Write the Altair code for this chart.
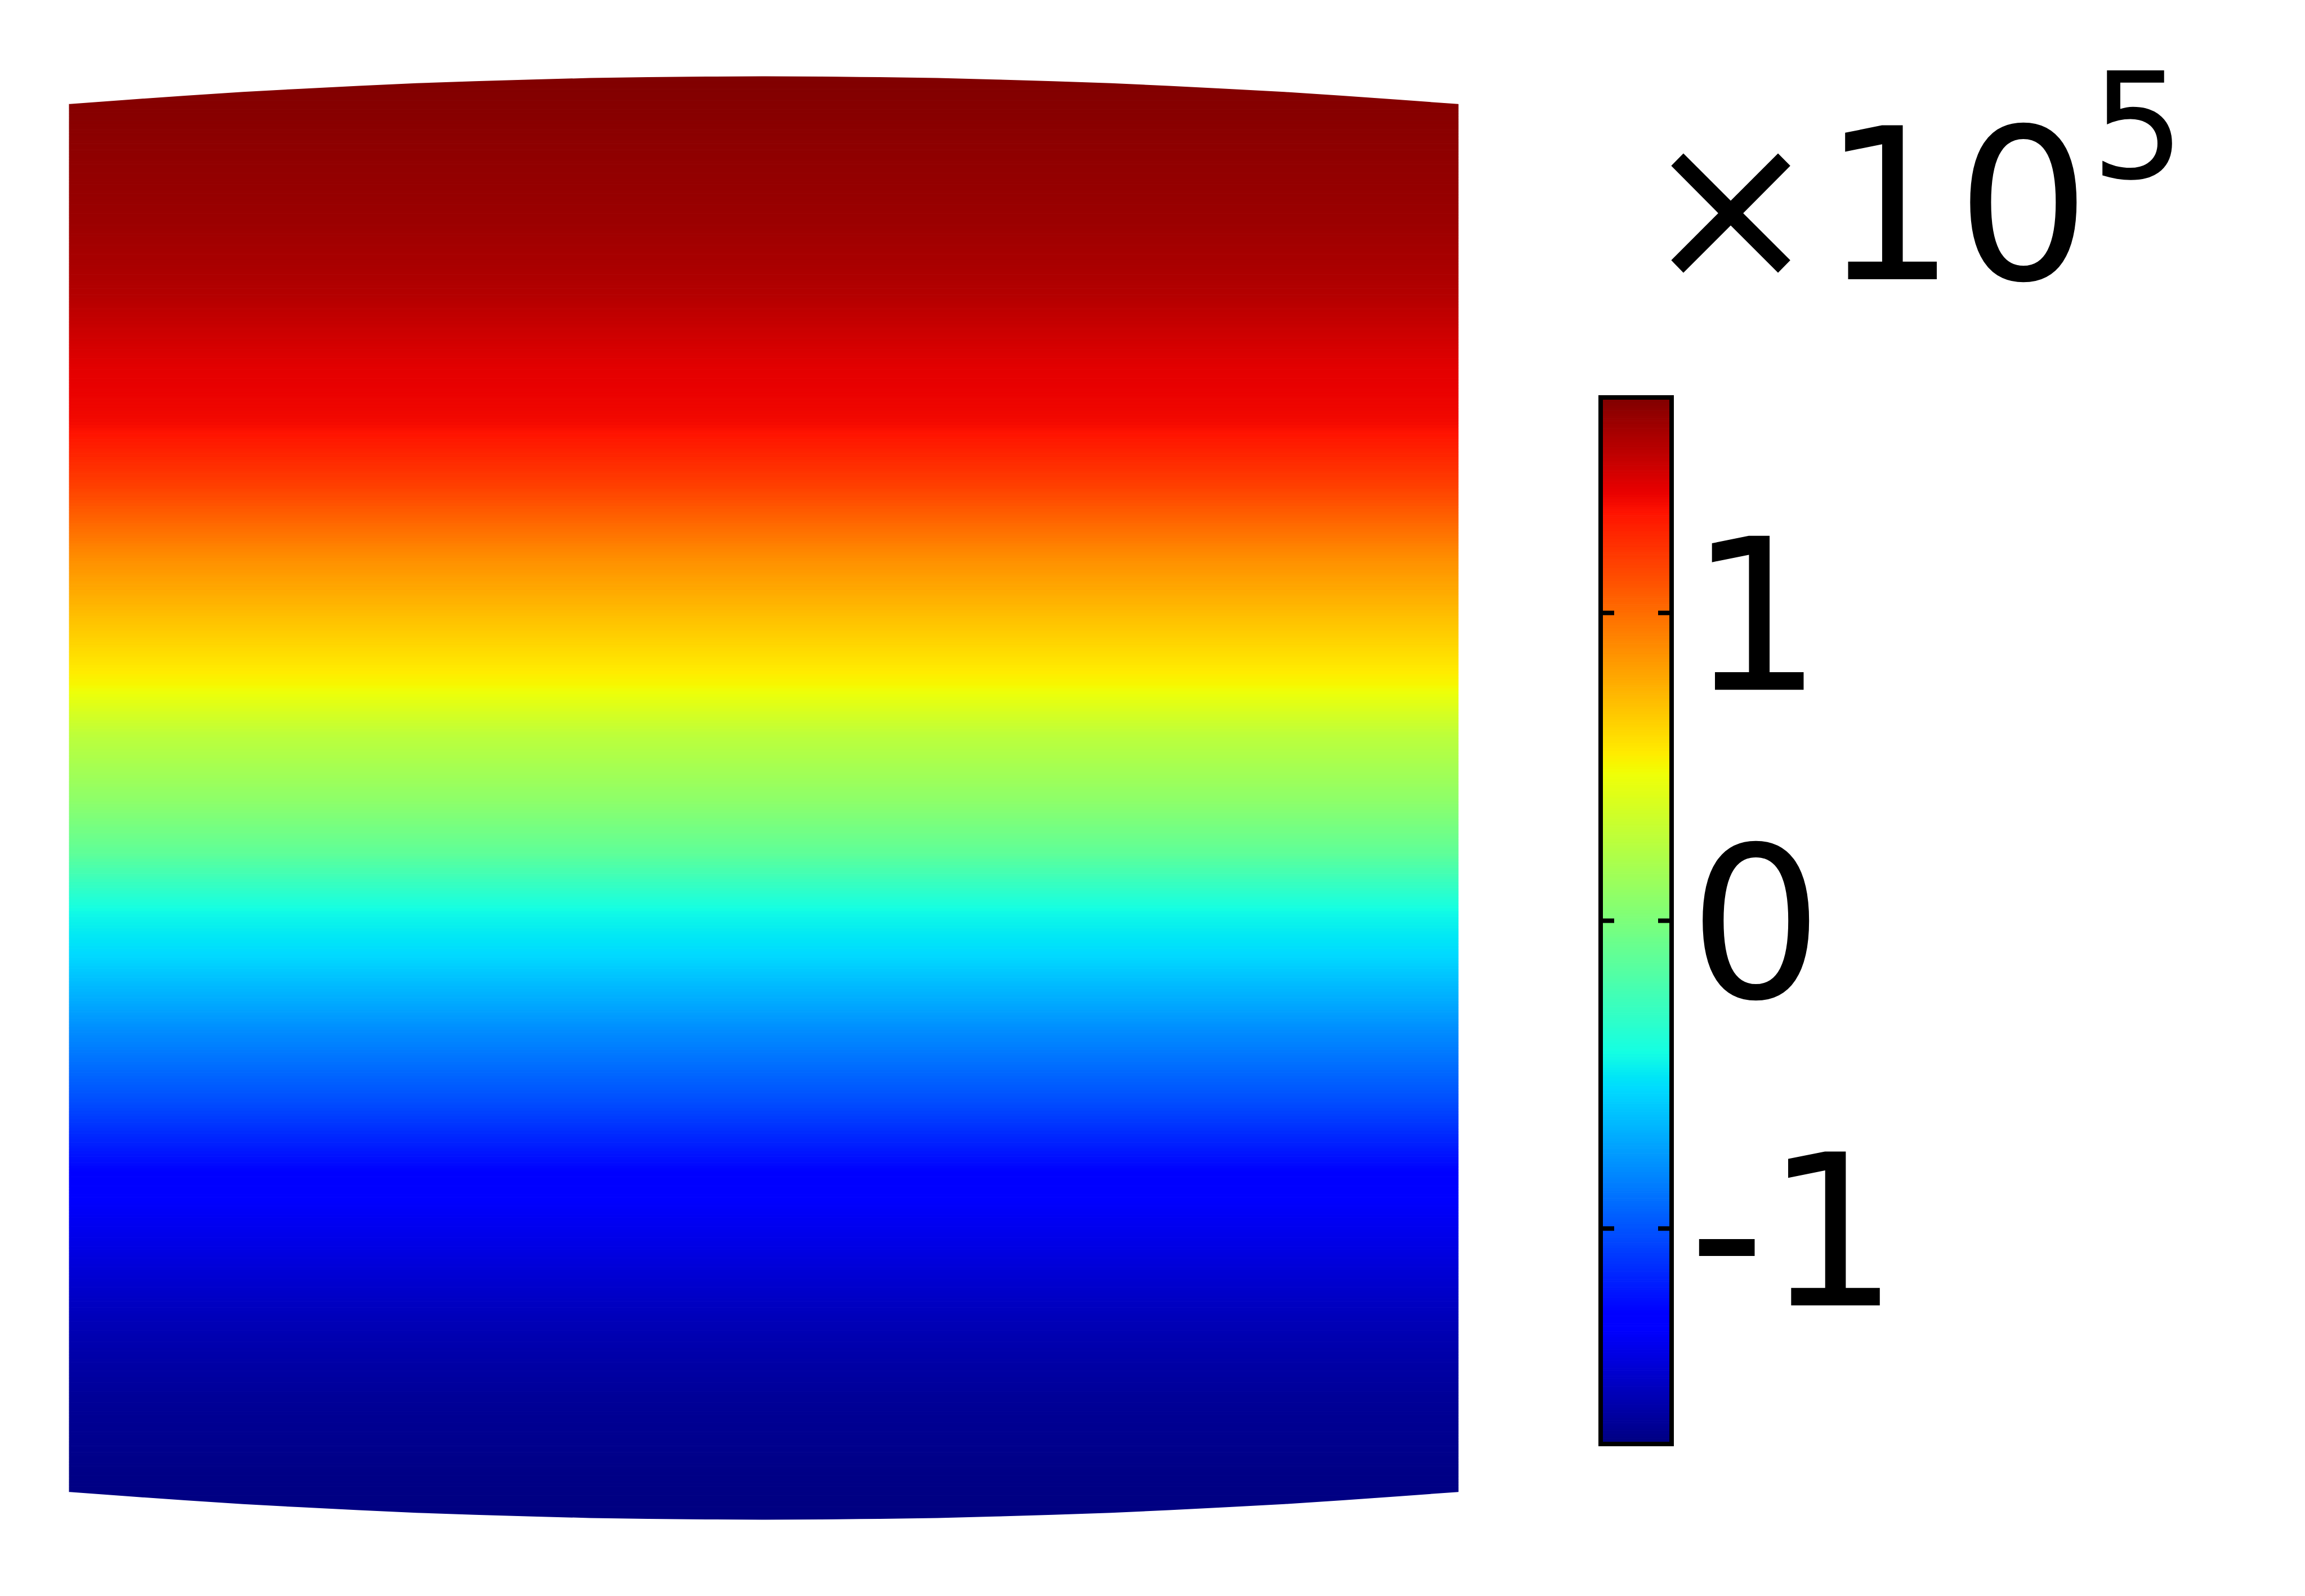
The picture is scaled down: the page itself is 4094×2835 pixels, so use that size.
import numpy as np
import pandas as pd
import altair as alt

# ---------------- values ----------------
V_MAX = 1.70e5            # colour-bar top
V_MIN = -1.70e5           # colour-bar bottom
TICK_VALUES = [-1e5, 0, 1e5]

# deformed outline of the body (data units)
edge_x = [0, 2, 4, 6, 8, 10, 12, 14, 16, 18, 20, 22, 24,
          26, 28, 30, 32, 34, 36, 38, 40, 42, 44, 46, 48]
edge_top = [24.02, 24.17, 24.31, 24.44, 24.55, 24.65, 24.74, 24.81, 24.87, 24.92, 24.95, 24.97, 24.98,
            24.97, 24.95, 24.92, 24.87, 24.81, 24.74, 24.65, 24.55, 24.44, 24.31, 24.17, 24.02]
edge_bottom = [-v for v in edge_top]

# field value (x1e5) read at heights through the body (data units)
profile_y = [25.0, 22.5, 19.96, 17.42, 14.88, 13.0, 10.82, 8.27, 5.74, 3.96, 2.18,
             -0.11, -1.89, -3.92, -5.44, -7.98, -10.52, -13.06, -15.6, -18.14,
             -20.68, -23.22, -25.0]
profile_v = [1.70, 1.66, 1.62, 1.55, 1.41, 1.36, 1.17, 0.88, 0.66, 0.51, 0.27,
             0.07, -0.12, -0.44, -0.55, -0.80, -1.02, -1.29, -1.41, -1.54,
             -1.63, -1.68, -1.70]

# ---------------- jet colour map (style) ----------------
JET = {
    "red": [(0, 0), (0.35, 0), (0.66, 1), (0.89, 1), (1, 0.5)],
    "green": [(0, 0), (0.125, 0), (0.375, 1), (0.64, 1), (0.91, 0), (1, 0)],
    "blue": [(0, 0.5), (0.11, 1), (0.34, 1), (0.65, 0), (1, 0)],
}
stops = sorted({t for seg in JET.values() for t, _ in seg})


def chan(name, t):
    xs = [p[0] for p in JET[name]]
    ys = [p[1] for p in JET[name]]
    return float(np.interp(t, xs, ys))


jet_colors = ["#%02x%02x%02x" % tuple(int(round(255 * chan(c, t))) for c in ("red", "green", "blue"))
              for t in stops]
jet_domain = [V_MIN + t * (V_MAX - V_MIN) for t in stops]
cscale = alt.Scale(type="linear", domain=jet_domain, range=jet_colors, interpolate="rgb", clamp=True)

# ---------------- field cells (shading of the read profile) ----------------
cell_edges = np.round(np.linspace(-25, 25, 501), 4)
mid = (cell_edges[:-1] + cell_edges[1:]) / 2
cell_v = np.interp(mid, profile_y[::-1], profile_v[::-1]) * 1e5
cells = pd.DataFrame({"x0": 0.0, "x1": 48.0, "y0": cell_edges[:-1], "y1": cell_edges[1:], "v": cell_v})

bar_edges = np.linspace(V_MIN, V_MAX, 401)
bar = pd.DataFrame({"c0": bar_edges[:-1], "c1": bar_edges[1:],
                    "v": (bar_edges[:-1] + bar_edges[1:]) / 2})

outline = pd.DataFrame({"x": edge_x, "top": edge_top, "bottom": edge_bottom,
                        "above": 26.5, "below": -26.5})

# ---------------- scales (plot origin at page 100,100) ----------------
sx = alt.Scale(domain=[0, 48], range=[23, 2490])
sy = alt.Scale(domain=[-25, 25], range=[2602.5, 32.5])
cy = alt.Scale(domain=[V_MIN, V_MAX], range=[2465, 606])
FONT = "DejaVu Sans"

field = alt.Chart(cells).mark_rect(strokeWidth=1).encode(
    x=alt.X("x0:Q", scale=sx, axis=None), x2="x1",
    y=alt.Y("y0:Q", scale=sy, axis=None), y2="y1",
    color=alt.Color("v:Q", scale=cscale, legend=None),
    stroke=alt.Stroke("v:Q", scale=cscale, legend=None),
)

mask_top = alt.Chart(outline).mark_area(
    color="white", stroke="white", strokeWidth=4, strokeJoin="round",
    interpolate="natural").encode(
    x=alt.X("x:Q", scale=sx, axis=None),
    y=alt.Y("top:Q", scale=sy, axis=None), y2="above",
)
mask_bottom = alt.Chart(outline).mark_area(
    color="white", stroke="white", strokeWidth=4, strokeJoin="round",
    interpolate="natural").encode(
    x=alt.X("x:Q", scale=sx, axis=None),
    y=alt.Y("bottom:Q", scale=sy, axis=None), y2="below",
)

cbar = alt.Chart(bar).mark_rect(strokeWidth=1).encode(
    x=alt.value(2743), x2=alt.value(2869),
    y=alt.Y("c0:Q", scale=cy, axis=alt.Axis(
        orient="right", values=TICK_VALUES, labelExpr="datum.value / 100000 + ''",
        ticks=False, domain=False, grid=False, title=None,
        labelFont=FONT, labelFontSize=375, labelColor="black", labelLimit=0,
        labelPadding=30, labelAlign="left", labelBaseline="middle", labelFlush=False,
        labelOverlap=False, labelOffset=23)),
    y2="c1",
    color=alt.Color("v:Q", scale=cscale, legend=None),
    stroke=alt.Stroke("v:Q", scale=cscale, legend=None),
)

frame = alt.Chart(pd.DataFrame({"lo": [V_MIN], "hi": [V_MAX]})).mark_rect(
    filled=False, stroke="black", strokeWidth=8).encode(
    x=alt.value(2743), x2=alt.value(2869),
    y=alt.Y("lo:Q", scale=cy, axis=None), y2="hi",
)

ticks_df = pd.DataFrame({"t": TICK_VALUES})
tick_l = alt.Chart(ticks_df).mark_rule(color="black", strokeWidth=8, strokeCap="butt").encode(
    x=alt.value(2743), x2=alt.value(2767), y=alt.Y("t:Q", scale=cy, axis=None))
tick_r = alt.Chart(ticks_df).mark_rule(color="black", strokeWidth=8, strokeCap="butt").encode(
    x=alt.value(2845), x2=alt.value(2869), y=alt.Y("t:Q", scale=cy, axis=None))

times = alt.Chart(pd.DataFrame({"s": ["×"]})).mark_text(
    font=FONT, fontSize=375, align="center", baseline="alphabetic", color="black").encode(
    text="s:N", x=alt.value(2974), y=alt.value(396))
ten = alt.Chart(pd.DataFrame({"s": ["10"]})).mark_text(
    font=FONT, fontSize=375, align="left", baseline="alphabetic", color="black").encode(
    text="s:N", x=alt.value(3136), y=alt.value(396))
expo = alt.Chart(pd.DataFrame({"s": ["5"]})).mark_text(
    font=FONT, fontSize=262, align="left", baseline="alphabetic", color="black").encode(
    text="s:N", x=alt.value(3614), y=alt.value(216))

chart = alt.layer(field, mask_top, mask_bottom, cbar, frame, tick_l, tick_r, times, ten, expo).resolve_scale(
    x="independent", y="independent"
).properties(
    width=2869, height=2635,
    autosize=alt.AutoSizeParams(type="none"),
    padding={"left": 92, "top": 92, "right": 1000, "bottom": 80},
    background="white",
).configure_view(strokeWidth=0)

chart.save("out.html", embed_options={"renderer": "svg", "actions": False})
